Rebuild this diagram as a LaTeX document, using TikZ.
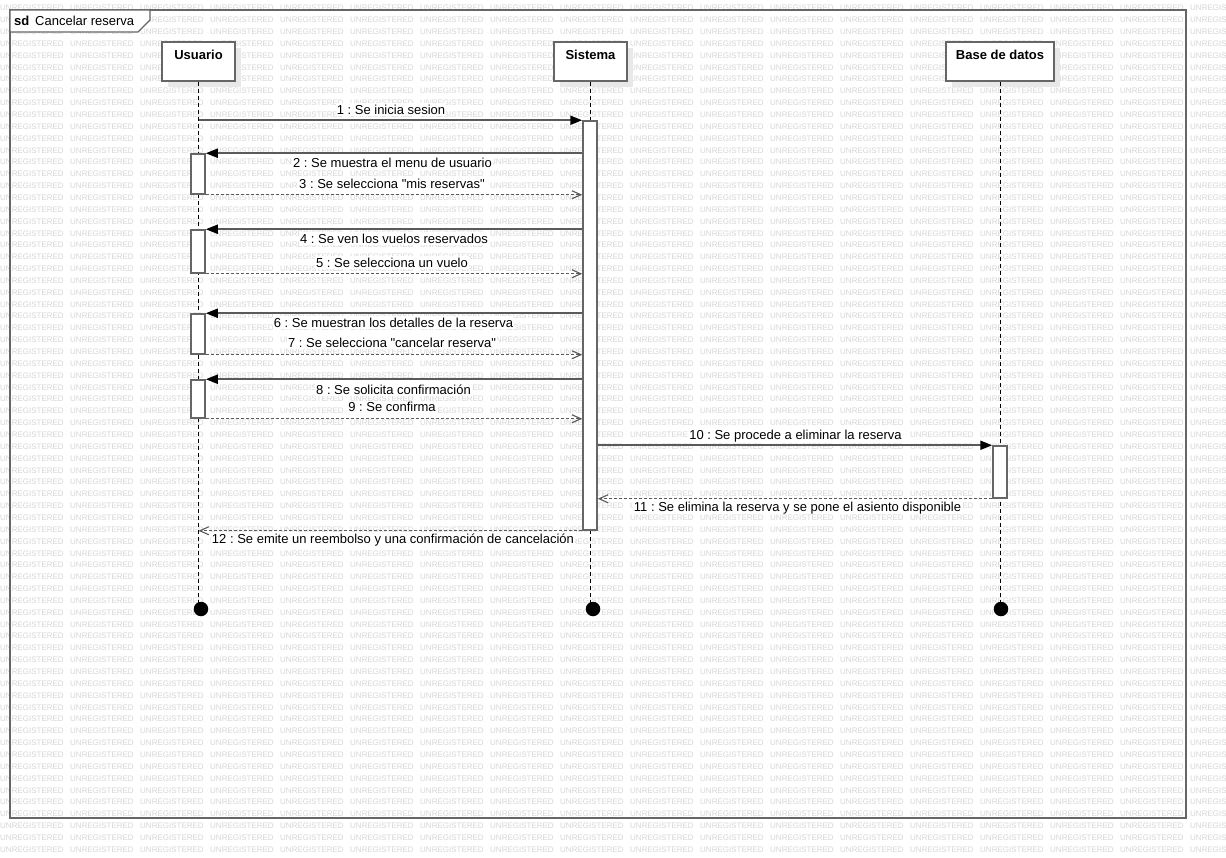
\documentclass[tikz,border=0pt]{standalone}
\usepackage{fontspec}
\setmainfont{Liberation Sans}[Ligatures=TeXOff]
\usetikzlibrary{arrows.meta,shadows}
\frenchspacing

\definecolor{edge}{HTML}{666666}
\definecolor{msgline}{HTML}{5A5A5A}
\definecolor{wmark}{HTML}{D6D6D6}
\definecolor{shade}{HTML}{E8E8E8}

\tikzset{
  wmtext/.style={font=\fontsize{8}{8}\selectfont, text=wmark, anchor=base west, inner sep=0pt},
  headbox/.style={draw=edge, line width=1.5pt, fill=white, minimum width=#1, minimum height=39pt, inner sep=0pt,
    drop shadow={shadow xshift=6pt, shadow yshift=-6pt, fill=shade, opacity=1}},
  headtxt/.style={font=\fontsize{13}{15}\selectfont\bfseries, inner sep=0pt},
  lifeline/.style={draw=black, line width=1pt, dash pattern=on 4pt off 3pt},
  actbox/.style={draw=edge, line width=1.5pt, fill=white, minimum width=14pt, minimum height=#1, inner sep=0pt},
  endpoint/.style={circle, fill=black, minimum size=14.5pt, inner sep=0pt},
  syncmsg/.style={draw=msgline, line width=2pt, -{Triangle[length=12pt, width=9pt, fill=black, color=black]}},
  replymsg/.style={draw=msgline, line width=1.3pt, dash pattern=on 3pt off 2pt,
    -{Straight Barb[length=9pt, width=8pt, line width=1.1pt]}},
  msglabel/.style={font=\fontsize{13}{15}\selectfont, fill=white, inner xsep=1pt, inner ysep=1.5pt,
    text height=9.5pt, text depth=0.5pt},
}

\begin{document}
\begin{tikzpicture}[x=1pt, y=-1pt]
  \useasboundingbox (0,0) rectangle (1226,858);
  \fill[white] (0,0) rectangle (1226,858);

  % background watermark grid
  \foreach \r in {0,...,71} {
    \foreach \c in {0,...,17} {
      \node[wmtext] at (70*\c, 8+11.85*\r+2.9) {UNREGISTERED};
    }
  }

  % diagram frame and title tab
  \draw[edge, line width=2pt] (10,10) rectangle (1186,818);
  \draw[edge, line width=1.3pt, fill=white] (10,10) -- (150,10) -- (150,20) -- (138,32) -- (10,32) -- cycle;
  \node[font=\fontsize{13}{15}\selectfont\bfseries, anchor=west, inner sep=0pt] (sdtag) at (14,20.5) {sd};
  \node[font=\fontsize{13}{15}\selectfont, anchor=west, inner sep=0pt] (sdname) at (35,20.5) {Cancelar reserva};

  % participant heads
  \node[headbox=73pt] (usr) at (198.5,61.5) {};
  \node[headbox=73pt] (sys) at (590.5,61.5) {};
  \node[headbox=108pt] (db) at (1000,61.5) {};
  \node[headtxt] (usrname) at (198.5,54.5) {Usuario};
  \node[headtxt] (sysname) at (590.5,54.5) {Sistema};
  \node[headtxt] (dbname) at (1000,54.5) {Base de datos};

  % lifeline terminations
  \node[endpoint] (usrEnd) at (201,609) {};
  \node[endpoint] (sysEnd) at (593,609) {};
  \node[endpoint] (dbEnd) at (1001,609) {};

  % lifelines
  \draw[lifeline] (usr.south) -- (usr.south |- usrEnd.center);
  \draw[lifeline] (sys.south) -- (sys.south |- sysEnd.center);
  \draw[lifeline] (db.south) -- (db.south |- dbEnd.center);

  % activation bars
  \node[actbox=409pt] (sysA) at (590,325.5) {};
  \node[actbox=40pt] (usrA1) at (198,174) {};
  \node[actbox=43pt] (usrA2) at (198,251.5) {};
  \node[actbox=40pt] (usrA3) at (198,334) {};
  \node[actbox=38pt] (usrA4) at (198,399) {};
  \node[actbox=52pt] (dbA) at (1000,472) {};

  % messages
  \draw[syncmsg] (usr.south |- sysA.north) -- (sysA.north west);
  \draw[syncmsg] (sysA.west |- usrA1.north) -- (usrA1.north east);
  \draw[replymsg] (usrA1.south east) -- (sysA.west |- usrA1.south);
  \draw[syncmsg] (sysA.west |- usrA2.north) -- (usrA2.north east);
  \draw[replymsg] (usrA2.south east) -- (sysA.west |- usrA2.south);
  \draw[syncmsg] (sysA.west |- usrA3.north) -- (usrA3.north east);
  \draw[replymsg] (usrA3.south east) -- (sysA.west |- usrA3.south);
  \draw[syncmsg] (sysA.west |- usrA4.north) -- (usrA4.north east);
  \draw[replymsg] (usrA4.south east) -- (sysA.west |- usrA4.south);
  \draw[syncmsg] (sysA.east |- dbA.north) -- (dbA.north west);
  \draw[replymsg] (dbA.south west) -- (sysA.east |- dbA.south);
  \draw[replymsg] (sysA.south west) -- (usr.south |- sysA.south);

  % message labels
  \node[msglabel] (l1) at (391,110) {1 : Se inicia sesion};
  \node[msglabel] (l2) at (392.5,163) {2 : Se muestra el menu de usuario};
  \node[msglabel] (l3) at (392,184) {3 : Se selecciona "mis reservas"};
  \node[msglabel] (l4) at (394,239) {4 : Se ven los vuelos reservados};
  \node[msglabel] (l5) at (392,263) {5 : Se selecciona un vuelo};
  \node[msglabel] (l6) at (393.5,323) {6 : Se muestran los detalles de la reserva};
  \node[msglabel] (l7) at (392,343) {7 : Se selecciona "cancelar reserva"};
  \node[msglabel] (l8) at (393.5,390) {8 : Se solicita confirmación};
  \node[msglabel] (l9) at (392,407) {9 : Se confirma};
  \node[msglabel] (l10) at (795.5,435) {10 : Se procede a eliminar la reserva};
  \node[msglabel] (l11) at (797.5,507) {11 : Se elimina la reserva y se pone el asiento disponible};
  \node[msglabel] (l12) at (393,539) {12 : Se emite un reembolso y una confirmación de cancelación};
\end{tikzpicture}
\end{document}
